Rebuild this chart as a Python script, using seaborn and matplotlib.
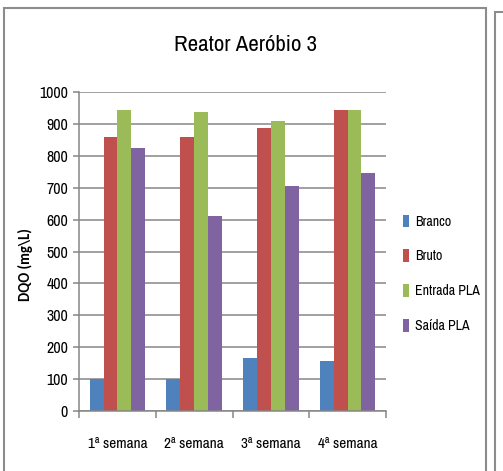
import matplotlib
matplotlib.use("Agg")
import matplotlib.pyplot as plt
from matplotlib.patches import Rectangle
import seaborn as sns
import pandas as pd

# Weekly COD readings for the aerobic reactor
weeks = ["1ª semana", "2ª semana", "3ª semana", "4ª semana"]
series_names = ["Branco", "Bruto", "Entrada PLA", "Saída PLA"]
branco = [100, 100, 166, 158]
bruto = [860, 860, 887, 944]
entrada_pla = [944, 938, 909, 944]
saida_pla = [826, 611, 705, 746]
y_ticks = [0, 100, 200, 300, 400, 500, 600, 700, 800, 900, 1000]

colors = ["#4F81BD", "#C0504D", "#9BBB59", "#8064A2"]

df = pd.DataFrame({
    "semana": weeks * 4,
    "serie": [s for s in series_names for _ in weeks],
    "dqo": branco + bruto + entrada_pla + saida_pla,
})

sns.set_theme(style="white")
narrow = ["Archivo Narrow", "DejaVu Sans"]
plt.rcParams["font.family"] = narrow
plt.rcParams["text.color"] = "black"
plt.rcParams["xtick.color"] = "black"
plt.rcParams["ytick.color"] = "black"
plt.rcParams["axes.labelcolor"] = "black"

fig = plt.figure(figsize=(5.03, 4.71), dpi=100)
ax = fig.add_axes([79 / 503, 1 - 411 / 471, (386 - 79) / 503, (411 - 92) / 471])

sns.barplot(data=df, x="semana", y="dqo", hue="serie", order=weeks,
            hue_order=series_names, palette=colors, width=0.72, gap=0,
            saturation=1, ax=ax, errorbar=None, edgecolor="none")

ax.set_ylim(0, 1000)
ax.set_xlim(-0.5, 3.5)
ax.set_yticks(y_ticks)
ax.yaxis.grid(True, color="#868686", linewidth=1.1)
ax.set_axisbelow(True)
for side in ["top", "right"]:
    ax.spines[side].set_visible(False)
for side in ["left", "bottom"]:
    ax.spines[side].set_color("#868686")
    ax.spines[side].set_linewidth(1.1)

ax.tick_params(axis="y", which="major", length=4, color="#868686", width=1.1,
               labelsize=11.5, pad=4, left=True, labelcolor="black")
ax.set_xticks([0, 1, 2, 3])
ax.set_xticklabels(weeks)
ax.tick_params(axis="x", which="major", length=0, labelsize=11, pad=19,
               labelcolor="black")
ax.set_xticks([-0.5, 0.5, 1.5, 2.5, 3.5], minor=True)
ax.tick_params(axis="x", which="minor", length=5, color="#868686", width=1.1,
               bottom=True)

ax.set_xlabel("")
ax.set_ylabel("DQO (mg\\L)", fontsize=10.5, fontweight="bold",
              family=["Carlito", "DejaVu Sans"])
ax.yaxis.set_label_coords(-0.15, 0.46)

fig.text(246 / 503, 1 - 45 / 471, "Reator Aeróbio 3", ha="center", va="center",
         fontsize=16.5, fontweight="semibold")

ax.legend(loc="upper left", bbox_to_anchor=(397 / 503, 1 - 209 / 471),
          bbox_transform=fig.transFigure, frameon=False, fontsize=10,
          handlelength=0.45, handleheight=1.0, handletextpad=0.45,
          labelspacing=1.5, borderaxespad=0)

# Chart frames
fig.patches.append(Rectangle((4 / 503, -0.05), (486 - 4) / 503, 1.05 - 8 / 471,
                             transform=fig.transFigure, fill=False,
                             edgecolor="#8c8c8c", linewidth=1.5))
fig.patches.append(Rectangle((495 / 503, -0.05), 0.2, 1.05 - 12 / 471,
                             transform=fig.transFigure, fill=False,
                             edgecolor="#8c8c8c", linewidth=1.5))

fig.savefig("out.png", dpi=100)
